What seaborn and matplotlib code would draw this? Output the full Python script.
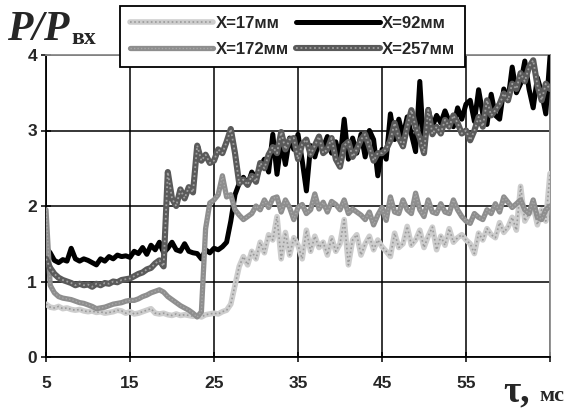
import numpy as np
import matplotlib
matplotlib.use("Agg")
import matplotlib.pyplot as plt
import seaborn as sns
from matplotlib.legend_handler import HandlerTuple
from matplotlib.lines import Line2D

# ---- data -------------------------------------------------------------
TIME = [5.0, 5.5, 6.0, 6.5, 7.0, 7.5, 8.0, 8.5, 9.0, 9.5,
        10.0, 10.5, 11.0, 11.5, 12.0, 12.5, 13.0, 13.5, 14.0, 14.5,
        15.0, 15.5, 16.0, 16.5, 17.0, 17.5, 18.0, 18.5, 19.0, 19.5,
        20.0, 20.5, 21.0, 21.5, 22.0, 22.5, 23.0, 23.5, 24.0, 24.5,
        25.0, 25.5, 26.0, 26.5, 27.0, 27.5, 28.0, 28.5, 29.0, 29.5,
        30.0, 30.5, 31.0, 31.5, 32.0, 32.5, 33.0, 33.5, 34.0, 34.5,
        35.0, 35.5, 36.0, 36.5, 37.0, 37.5, 38.0, 38.5, 39.0, 39.5,
        40.0, 40.5, 41.0, 41.5, 42.0, 42.5, 43.0, 43.5, 44.0, 44.5,
        45.0, 45.5, 46.0, 46.5, 47.0, 47.5, 48.0, 48.5, 49.0, 49.5,
        50.0, 50.5, 51.0, 51.5, 52.0, 52.5, 53.0, 53.5, 54.0, 54.5,
        55.0, 55.5, 56.0, 56.5, 57.0, 57.5, 58.0, 58.5, 59.0, 59.5,
        60.0, 60.5, 61.0, 61.5, 62.0, 62.5, 63.0, 63.5, 64.0, 64.5,
        65.0]

P_X17 = [0.70, 0.66, 0.65, 0.67, 0.64, 0.65, 0.63, 0.62, 0.63, 0.61,
         0.60, 0.61, 0.59, 0.60, 0.58, 0.59, 0.60, 0.62, 0.61, 0.58,
         0.60, 0.57, 0.58, 0.60, 0.62, 0.64, 0.58, 0.57, 0.58, 0.56,
         0.55, 0.57, 0.55, 0.56, 0.55, 0.54, 0.55, 0.53, 0.56, 0.57,
         0.58, 0.57, 0.60, 0.62, 0.70, 0.95, 1.20, 1.33, 1.22, 1.40,
         1.30, 1.52, 1.38, 1.62, 1.55, 1.86, 1.30, 1.65, 1.35, 1.58,
         1.48, 1.30, 1.68, 1.40, 1.60, 1.45, 1.52, 1.35, 1.58, 1.40,
         1.50, 1.82, 1.22, 1.55, 1.62, 1.35, 1.50, 1.60, 1.42, 1.55,
         1.46, 1.40, 1.33, 1.64, 1.45, 1.50, 1.73, 1.48, 1.55, 1.68,
         1.45, 1.60, 1.72, 1.42, 1.60, 1.48, 1.70, 1.52, 1.58, 1.62,
         1.55, 1.50, 1.37, 1.64, 1.55, 1.70, 1.62, 1.58, 1.78, 1.65,
         1.72, 1.85, 1.68, 2.26, 1.80, 1.90, 2.00, 1.75, 1.95, 1.80,
         2.43]

P_X92 = [1.45, 1.38, 1.28, 1.25, 1.29, 1.27, 1.44, 1.30, 1.27, 1.30,
         1.28, 1.25, 1.22, 1.30, 1.27, 1.33, 1.30, 1.35, 1.33, 1.34,
         1.32, 1.40, 1.37, 1.45, 1.36, 1.48, 1.42, 1.52, 1.38, 1.44,
         1.52, 1.42, 1.40, 1.50, 1.40, 1.38, 1.37, 1.30, 1.42, 1.38,
         1.44, 1.42, 1.46, 1.52, 1.80, 2.15, 2.30, 2.38, 2.28, 2.45,
         2.36, 2.52, 2.62, 2.45, 2.95, 2.42, 2.85, 2.55, 2.90, 2.75,
         2.95, 2.60, 2.20, 2.80, 2.65, 2.85, 2.78, 2.92, 2.70, 2.85,
         2.62, 3.15, 2.62, 2.90, 2.70, 2.95, 2.65, 3.00, 2.88, 2.40,
         2.75, 2.62, 3.22, 2.88, 3.15, 2.92, 3.18, 2.95, 2.72, 3.65,
         2.72, 3.28, 3.05, 3.20, 3.10, 3.26, 3.12, 3.05, 3.30, 3.15,
         3.35, 3.40, 3.12, 3.54, 3.22, 3.08, 3.48, 3.20, 3.15, 3.55,
         3.40, 3.84, 3.50, 3.62, 3.92, 3.55, 3.30, 3.70, 3.50, 3.22,
         3.98]

P_X172 = [1.95, 0.95, 0.85, 0.80, 0.78, 0.77, 0.76, 0.74, 0.72, 0.71,
          0.69, 0.67, 0.64, 0.65, 0.66, 0.68, 0.70, 0.71, 0.72, 0.74,
          0.75, 0.75, 0.77, 0.80, 0.82, 0.85, 0.87, 0.89, 0.86, 0.80,
          0.76, 0.72, 0.68, 0.65, 0.62, 0.58, 0.53, 0.60, 1.70, 2.04,
          2.08, 2.15, 2.40, 2.12, 2.15, 1.95, 1.88, 1.82, 1.86, 1.90,
          2.00, 1.95, 2.08, 1.98, 2.10, 2.12, 1.92, 2.08, 1.98, 1.82,
          1.98, 2.02, 1.90, 1.95, 2.16, 1.96, 2.05, 1.92, 2.06, 2.02,
          1.95, 2.08, 1.90, 1.96, 1.92, 1.88, 1.82, 1.92, 1.75, 1.88,
          1.98, 1.81, 2.12, 1.92, 1.90, 2.08, 1.95, 1.90, 2.17, 1.95,
          1.86, 2.08, 1.92, 1.90, 2.03, 1.92, 1.90, 2.08, 1.95, 1.86,
          1.80, 1.77, 1.90, 1.85, 1.82, 1.95, 1.90, 2.03, 1.92, 2.12,
          2.05, 1.98, 2.03, 2.08, 1.95, 1.90, 2.08, 1.85, 1.82, 1.95,
          2.00]

P_X257 = [1.30, 1.18, 1.10, 1.05, 1.02, 1.00, 0.98, 0.95, 0.97, 0.95,
          0.96, 0.93, 0.97, 0.95, 0.98, 0.97, 1.00, 0.99, 1.02, 1.03,
          1.04, 1.07, 1.10, 1.12, 1.16, 1.18, 1.24, 1.28, 1.20, 2.45,
          2.10, 2.00, 2.22, 2.10, 2.25, 2.18, 2.80, 2.60, 2.68, 2.57,
          2.60, 2.75, 2.70, 2.85, 3.02, 2.70, 2.30, 2.35, 2.28, 2.40,
          2.32, 2.57, 2.50, 2.68, 2.78, 2.70, 2.98, 2.75, 2.88, 2.90,
          2.62, 2.82, 2.88, 2.68, 2.80, 2.92, 2.70, 2.75, 2.90, 2.62,
          2.52, 2.80, 2.85, 2.65, 2.75, 2.88, 2.95, 2.78, 2.60, 2.70,
          2.70, 2.75, 2.87, 3.10, 2.90, 2.79, 3.05, 3.27, 3.05, 2.90,
          2.70, 3.27, 2.95, 3.05, 2.96, 3.14, 3.05, 3.20, 3.10, 2.96,
          3.00, 2.87, 3.00, 3.18, 3.05, 3.40, 3.20, 3.27, 3.35, 3.49,
          3.40, 3.62, 3.55, 3.76, 3.65, 3.84, 3.93, 3.60, 3.40, 3.62,
          3.55]

LABELS = ["X=17мм", "X=92мм", "X=172мм", "X=257мм"]
X_TICKS = [5, 15, 25, 35, 45, 55, 65]
X_TICK_LABELS = ["5", "15", "25", "35", "45", "55", ""]
Y_TICKS = [0, 1, 2, 3, 4]

# ---- figure -----------------------------------------------------------
sns.set_style("white")
plt.rcParams["font.family"] = ["Liberation Sans", "DejaVu Sans"]

W, H = 572, 409
fig = plt.figure(figsize=(W / 100, H / 100), dpi=100)
ax = fig.add_axes([46 / W, 1 - 357 / H, (550 - 46) / W, (357 - 55) / H])

# series styles: (base color, base width, overlay color, overlay width)
styles = [
    ("#cdcdcd", 4.0, "#9a9a9a", 1.2),   # X=17
    ("#000000", 3.6, None, 0),          # X=92
    ("#8e8e8e", 3.8, "#a8a8a8", 1.0),   # X=172
    ("#5a5a5a", 4.4, "#a0a0a0", 1.3),   # X=257
]
series = [P_X17, P_X92, P_X172, P_X257]
handles = []
for i, (vals, (c, w, oc, ow)) in enumerate(zip(series, styles)):
    sns.lineplot(x=TIME, y=vals, ax=ax, color=c, linewidth=w,
                 solid_joinstyle="round", zorder=3 + i, legend=False)
    hb = Line2D([], [], color=c, linewidth=w)
    if oc is not None:
        sns.lineplot(x=TIME, y=vals, ax=ax, color=oc, linewidth=ow,
                     linestyle=(0, (1, 1.5)), zorder=3.5 + i, legend=False)
        ho = Line2D([], [], color=oc, linewidth=ow, linestyle=(0, (1, 1.5)))
        handles.append((hb, ho))
    else:
        handles.append((hb,))

ax.set_xlim(5, 65)
ax.set_ylim(0, 4)
ax.set_xticks(X_TICKS)
ax.set_xticklabels(X_TICK_LABELS)
ax.set_yticks(Y_TICKS)
ax.set_xlabel("")
ax.set_ylabel("")
ax.grid(True, color="black", linewidth=1.1)
ax.set_axisbelow(True)
for s in ["left", "bottom"]:
    ax.spines[s].set_color("black")
    ax.spines[s].set_linewidth(1.3)
for s in ["top", "right"]:
    ax.spines[s].set_color("#8a8a8a")
    ax.spines[s].set_linewidth(1.3)
ax.tick_params(axis="both", direction="inout", length=7, width=1.1,
               color="black", labelsize=12.5)
ax.tick_params(axis="x", pad=10)
ax.tick_params(axis="y", pad=3)
ax.tick_params(left=True, bottom=True)
for lab in ax.get_xticklabels() + ax.get_yticklabels():
    lab.set_fontweight("bold")

# legend (row-wise order: 17, 92 / 172, 257)
order = [0, 2, 1, 3]
leg = fig.legend([handles[k] for k in order], [LABELS[k] for k in order],
                 handler_map={tuple: HandlerTuple(ndivide=1)},
                 loc="upper left", bbox_to_anchor=(120 / W, 1 - 6 / H),
                 ncol=2, frameon=True, fancybox=False,
                 prop={"weight": "bold", "size": 12},
                 handlelength=5.0, handletextpad=0.15, columnspacing=0.45,
                 labelspacing=0.65, borderpad=0.6, borderaxespad=0)
leg.get_frame().set_edgecolor("black")
leg.get_frame().set_linewidth(1.3)
leg.get_frame().set_facecolor("white")
leg.get_frame().set_alpha(1)

# axis labels as free text
serif = ["Liberation Serif", "DejaVu Serif"]
fig.text(7 / W, 1 - 40 / H, "P/P", family=serif, weight="bold",
         style="italic", size=30, va="baseline", ha="left")
fig.text(71 / W, 1 - 44 / H, "вх", family=serif, weight="bold",
         size=17, va="baseline", ha="left")
fig.text(503 / W, 1 - 401 / H, "τ,", family=serif, weight="bold",
         size=27, va="baseline", ha="left")
fig.text(539 / W, 1 - 401 / H, "мс", family=serif, weight="bold",
         size=16, va="baseline", ha="left")

fig.savefig("out.png", dpi=100)
